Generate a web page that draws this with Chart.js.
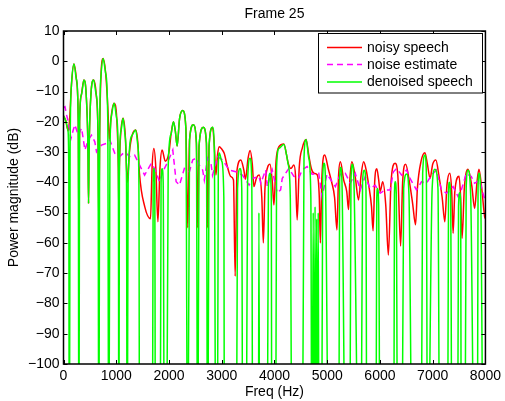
<!DOCTYPE html>
<html><head><meta charset="utf-8">
<script src="https://cdn.jsdelivr.net/npm/chart.js@4/dist/chart.umd.min.js"></script>
<style>html,body{margin:0;padding:0;background:#fff;}canvas{display:block;}</style>
</head><body>
<canvas id="c" width="505" height="401"></canvas>
<script>
// ---- data (frequency in Hz, level in dB) ----
const FLOOR = -150; // denoised bins that were zeroed (drawn off the bottom of the axes)
const noisySpeech = [
[0,-18],[40,-19.5],[90,-23],[120,-18],[150,-8],[198,-0.9],[245,-6],[280,-20],[292,-55],[305,-20],[340,-11],[387,-6.2],[430,-11],[465,-30],[475,-47],[485,-30],[520,-11],[570,-6.2],[620,-11],[655,-25],[670,-55],[685,-25],[710,-5],[751,0.9],[800,-4],[840,-15],[870,-26],[900,-19],[959,-13.9],[1010,-19],[1040,-35],[1050,-50],[1060,-35],[1090,-23],[1129,-18.8],[1170,-24],[1210,-40],[1250,-30],[1300,-24.5],[1368,-22.7],[1410,-27],[1440,-37],[1540,-48],[1650,-52],[1680,-35],[1713,-28.8],[1750,-35],[1790,-53],[1830,-35],[1870,-29.3],[1930,-33],[2000,-30],[2040,-24],[2085,-20],[2120,-23],[2155,-28],[2200,-19],[2260,-16.3],[2320,-22],[2355,-55],[2390,-26],[2462,-21],[2520,-27],[2544,-55],[2570,-28],[2651,-21.8],[2710,-27],[2733,-55],[2760,-28],[2826,-21.8],[2860,-28],[2890,-37.6],[2920,-31],[2953,-28.2],[3000,-29],[3047,-30.4],[3110,-35],[3173,-38.1],[3223,-39.2],[3255,-71],[3290,-36],[3362,-32.6],[3420,-36],[3450,-39],[3500,-32],[3538,-29.5],[3580,-34],[3610,-41.4],[3660,-38.5],[3708,-37.6],[3760,-45],[3789,-60],[3820,-42],[3870,-35],[3915,-34],[3960,-40],[3990,-47.5],[4030,-33],[4085,-28.2],[4179,-27.3],[4230,-31],[4260,-33.7],[4310,-35.4],[4368,-34.3],[4400,-38],[4430,-52.4],[4470,-35],[4530,-28.5],[4600,-25.8],[4650,-31],[4700,-35.5],[4750,-37],[4810,-37.5],[4850,-45],[4870,-60],[4900,-38],[4953,-31],[5020,-35.5],[5083,-39.8],[5140,-45],[5185,-55.7],[5215,-38],[5250,-33.2],[5312,-39.2],[5370,-43],[5405,-49],[5430,-39],[5468,-33.2],[5530,-38],[5594,-45.8],[5640,-38],[5690,-33.2],[5740,-36],[5783,-40.5],[5840,-48],[5870,-56],[5900,-40],[5940,-35.5],[5975,-39],[6004,-43],[6053,-39.8],[6110,-47.5],[6160,-64],[6210,-40],[6287,-33.7],[6340,-38],[6392,-61],[6430,-40],[6487,-34],[6560,-40],[6620,-47],[6675,-54],[6710,-42],[6780,-33],[6853,-30.2],[6900,-34],[6950,-38.7],[7000,-34],[7060,-32.6],[7120,-38],[7180,-45],[7230,-53],[7270,-41],[7325,-37],[7360,-43],[7387,-56.8],[7420,-43],[7500,-38],[7530,-45],[7557,-58.5],[7600,-42],[7670,-35.7],[7740,-41],[7796,-48.6],[7840,-40],[7877,-35.7],[7930,-42],[7985,-51.3],[8000,-52]
];
const noiseEstimate = [
[0,-15.3],[28,-15],[60,-17.8],[91,-20],[142,-25.5],[185,-22.7],[217,-21],[279,-24.4],[343,-22.1],[406,-29.3],[468,-26],[532,-24.4],[594,-26.6],[626,-29.9],[721,-27.7],[815,-27.1],[877,-26],[972,-30.4],[1066,-31.5],[1160,-29.9],[1255,-31.5],[1349,-31],[1443,-34.3],[1538,-37.6],[1664,-33.7],[1726,-35.4],[1821,-39.8],[1883,-36.5],[1977,-33.2],[2072,-29.3],[2136,-39.8],[2198,-40.9],[2292,-35.4],[2387,-36.5],[2449,-32.6],[2513,-32],[2575,-34.3],[2638,-35.9],[2670,-39.2],[2732,-32],[2796,-33.7],[2826,-37.6],[2921,-31.5],[3015,-32.6],[3142,-35.9],[3268,-36.5],[3392,-37.6],[3519,-40.9],[3581,-38.7],[3708,-38.1],[3740,-40.3],[3834,-35.9],[3864,-41.4],[3958,-35.9],[4053,-43.5],[4117,-42.5],[4147,-38.7],[4273,-35.4],[4368,-38],[4462,-38.5],[4525,-35.9],[4619,-34.8],[4713,-37.3],[4840,-37],[4902,-44.7],[4996,-37.3],[5155,-41.4],[5249,-37.3],[5343,-37],[5438,-40.3],[5532,-37],[5626,-42.5],[5721,-38.1],[5815,-42],[5910,-41],[6004,-43.6],[6098,-42.5],[6193,-42.5],[6255,-36.5],[6317,-35.4],[6411,-37.6],[6506,-35.9],[6570,-38.7],[6694,-42.5],[6789,-39.8],[6883,-40.3],[6977,-37.6],[7072,-35.9],[7166,-42.5],[7261,-43.6],[7387,-41.4],[7481,-44.7],[7543,-42.5],[7638,-37],[7732,-38.1],[7796,-40.3],[7890,-39.2],[7985,-45.8]
];
const denoisedSpeech = [
[0,-18],[40,-19.5],[85,-23],[100,-35],[110,FLOOR],[125,-30],[150,-8],[198,-0.9],[245,-6],[280,-20],[292,FLOOR],[305,-20],[340,-11],[387,-6.2],[430,-11],[465,-30],[475,-47],[485,-30],[520,-11],[570,-6.2],[620,-11],[655,-25],[670,FLOOR],[685,-25],[710,-5],[751,0.9],[800,-4],[840,-20],[858,FLOOR],[880,-30],[910,-18],[959,-13.9],[1010,-19],[1040,-35],[1050,FLOOR],[1060,-35],[1090,-23],[1129,-18.8],[1170,-25],[1195,-40],[1207,FLOOR],[1225,-40],[1300,-24.5],[1368,-22.7],[1410,-28],[1430,-40],[1443,FLOOR],[1683,FLOOR],[1700,-40],[1713,-35.4],[1730,-40],[1745,FLOOR],[1830,FLOOR],[1850,-40],[1870,-35.5],[1890,-40],[1915,FLOOR],[1950,FLOOR],[1985,-35],[2040,-24],[2085,-20],[2120,-23],[2155,-28],[2200,-19],[2260,-16.3],[2320,-22],[2355,FLOOR],[2390,-26],[2462,-21],[2520,-27],[2544,FLOOR],[2570,-28],[2651,-21.8],[2710,-27],[2733,FLOOR],[2760,-28],[2826,-21.8],[2860,-30],[2890,FLOOR],[2915,FLOOR],[2935,-35],[2953,-30.3],[3000,-33],[3040,-45],[3053,FLOOR],[3275,FLOOR],[3300,-42],[3349,-35.4],[3380,-42],[3400,FLOOR],[3460,FLOOR],[3490,-40],[3538,-32],[3570,-40],[3590,FLOOR],[3695,FLOOR],[3705,-50],[3720,FLOOR],[3860,FLOOR],[3885,-42],[3915,-37],[3940,-45],[3950,FLOOR],[4020,FLOOR],[4040,-35],[4085,-28.8],[4179,-27.5],[4230,-31],[4260,-34],[4300,-45],[4336,FLOOR],[4525,FLOOR],[4560,-32],[4600,-25.8],[4650,-32],[4690,-45],[4710,FLOOR],[4735,-50],[4750,FLOOR],[4770,-48],[4785,FLOOR],[4800,-52],[4815,FLOOR],[4830,-50],[4845,FLOOR],[4891,FLOOR],[4915,-38],[4940,-33.7],[4965,-38],[5035,FLOOR],[5218,FLOOR],[5235,-40],[5255,-35],[5280,-40],[5355,FLOOR],[5425,FLOOR],[5450,-40],[5478,-34],[5510,-42],[5608,FLOOR],[5638,FLOOR],[5670,-40],[5705,-36],[5735,-42],[5752,FLOOR],[5922,FLOOR],[5940,-45],[5953,-42],[5975,-47],[6004,FLOOR],[6261,FLOOR],[6275,-44],[6290,-39.8],[6310,-44],[6337,FLOOR],[6412,FLOOR],[6450,-42],[6506,-37.2],[6550,-44],[6620,FLOOR],[6778,FLOOR],[6810,-37],[6853,-31],[6880,-37],[6903,FLOOR],[6990,-42],[7042,-35.7],[7100,-42],[7137,FLOOR],[7280,FLOOR],[7300,-44],[7315,-40],[7340,-45],[7369,FLOOR],[7469,FLOOR],[7490,-48],[7513,-43.4],[7530,-48],[7544,FLOOR],[7608,FLOOR],[7635,-42],[7670,-36],[7720,-44],[7797,FLOOR],[7846,FLOOR],[7860,-42],[7877,-37],[7910,-44],[7967,FLOOR],[8000,FLOOR]
];
const seriesLabels = ['noisy speech', 'noise estimate', 'denoised speech'];
const xTickValues = [0, 1000, 2000, 3000, 4000, 5000, 6000, 7000, 8000];
const yTickValues = [10, 0, -10, -20, -30, -40, -50, -60, -70, -80, -90, -100];
const chartTitle = 'Frame 25';
const xAxisTitle = 'Freq (Hz)';
const yAxisTitle = 'Power magnitude (dB)';

// ---- rendering ----
const FONT = '"Liberation Sans", Arial, Helvetica, sans-serif';
const LW = 1.5;
const toXY = arr => arr.map(p => ({x: p[0], y: p[1]}));
const minus = v => String(v).replace('-', '\u2212');

const matlabAxes = {
  id: 'matlabAxes',
  afterDraw(chart) {
    const {ctx, chartArea: a, scales: {x, y}} = chart;
    ctx.save();
    ctx.strokeStyle = '#000';
    ctx.lineWidth = 1;
    ctx.beginPath();
    const tl = 4;
    xTickValues.forEach(v => {
      const px = Math.round(x.getPixelForValue(v)) + 0.5;
      ctx.moveTo(px, a.bottom); ctx.lineTo(px, a.bottom - tl);
      ctx.moveTo(px, a.top); ctx.lineTo(px, a.top + tl);
    });
    yTickValues.forEach(v => {
      const py = Math.round(y.getPixelForValue(v)) + 0.5;
      ctx.moveTo(a.left, py); ctx.lineTo(a.left + tl, py);
      ctx.moveTo(a.right, py); ctx.lineTo(a.right - tl, py);
    });
    ctx.stroke();
    ctx.lineWidth = 1.5;
    ctx.strokeRect(a.left, a.top, a.right - a.left, a.bottom - a.top);

    // legend box (inside axes, top right)
    const bx = 318.5, by = 33.5, bw = 164, bh = 59.5;
    ctx.fillStyle = '#fff';
    ctx.fillRect(bx, by, bw, bh);
    ctx.lineWidth = 1;
    ctx.strokeRect(bx, by, bw, bh);
    const rows = [47.5, 64.5, 82];
    chart.data.datasets.forEach((ds, i) => {
      const ry = rows[i];
      ctx.strokeStyle = ds.borderColor;
      ctx.lineWidth = LW;
      ctx.setLineDash(ds.borderDash || []);
      ctx.beginPath();
      ctx.moveTo(327, ry); ctx.lineTo(362, ry);
      ctx.stroke();
      ctx.setLineDash([]);
      ctx.fillStyle = '#000';
      ctx.font = '14px ' + FONT;
      ctx.textBaseline = 'middle';
      ctx.textAlign = 'left';
      ctx.fillText(ds.label, 367, ry + 0.5);
    });
    ctx.restore();
  }
};

new Chart(document.getElementById('c'), {
  type: 'line',
  data: {
    datasets: [
      {label: seriesLabels[0], data: toXY(noisySpeech), borderColor: '#ff0000', borderWidth: LW,
       pointRadius: 0, cubicInterpolationMode: 'monotone', order: 2},
      {label: seriesLabels[1], data: toXY(noiseEstimate), borderColor: '#ff00ff', borderWidth: LW,
       borderDash: [6, 4], pointRadius: 0, tension: 0, order: 1},
      {label: seriesLabels[2], data: toXY(denoisedSpeech), borderColor: '#00ff00', borderWidth: LW,
       pointRadius: 0, cubicInterpolationMode: 'monotone', order: 0}
    ]
  },
  options: {
    responsive: false,
    animation: false,
    devicePixelRatio: 1,
    layout: {padding: {left: 0, right: 17.5, top: 0, bottom: 0}},
    plugins: {
      legend: {display: false},
      tooltip: {enabled: false},
      title: {display: true, text: chartTitle, fullSize: false, color: '#000',
              font: {family: FONT, size: 14, weight: 'normal'}, padding: {top: 5.6, bottom: 8.6}}
    },
    scales: {
      x: {
        type: 'linear', min: 0, max: 8000,
        afterBuildTicks: s => { s.ticks = xTickValues.map(v => ({value: v})); },
        afterFit: s => { s.height = 37; },
        grid: {display: false, drawTicks: false},
        border: {display: false},
        ticks: {color: '#000', padding: 4, maxRotation: 0, autoSkip: false,
                font: {family: FONT, size: 14}, callback: v => minus(v)},
        title: {display: true, text: xAxisTitle, color: '#000',
                font: {family: FONT, size: 14}, padding: {top: 0, bottom: 0}}
      },
      y: {
        type: 'linear', min: -100, max: 10,
        afterBuildTicks: s => { s.ticks = yTickValues.map(v => ({value: v})); },
        afterFit: s => { s.width = 63.5; },
        grid: {display: false, drawTicks: false},
        border: {display: false},
        ticks: {color: '#000', padding: 4, autoSkip: false,
                font: {family: FONT, size: 14}, callback: v => minus(v)},
        title: {display: true, text: yAxisTitle, color: '#000',
                font: {family: FONT, size: 14}, padding: {top: 5.6, bottom: 0}}
      }
    }
  },
  plugins: [matlabAxes]
});
</script>
</body></html>
